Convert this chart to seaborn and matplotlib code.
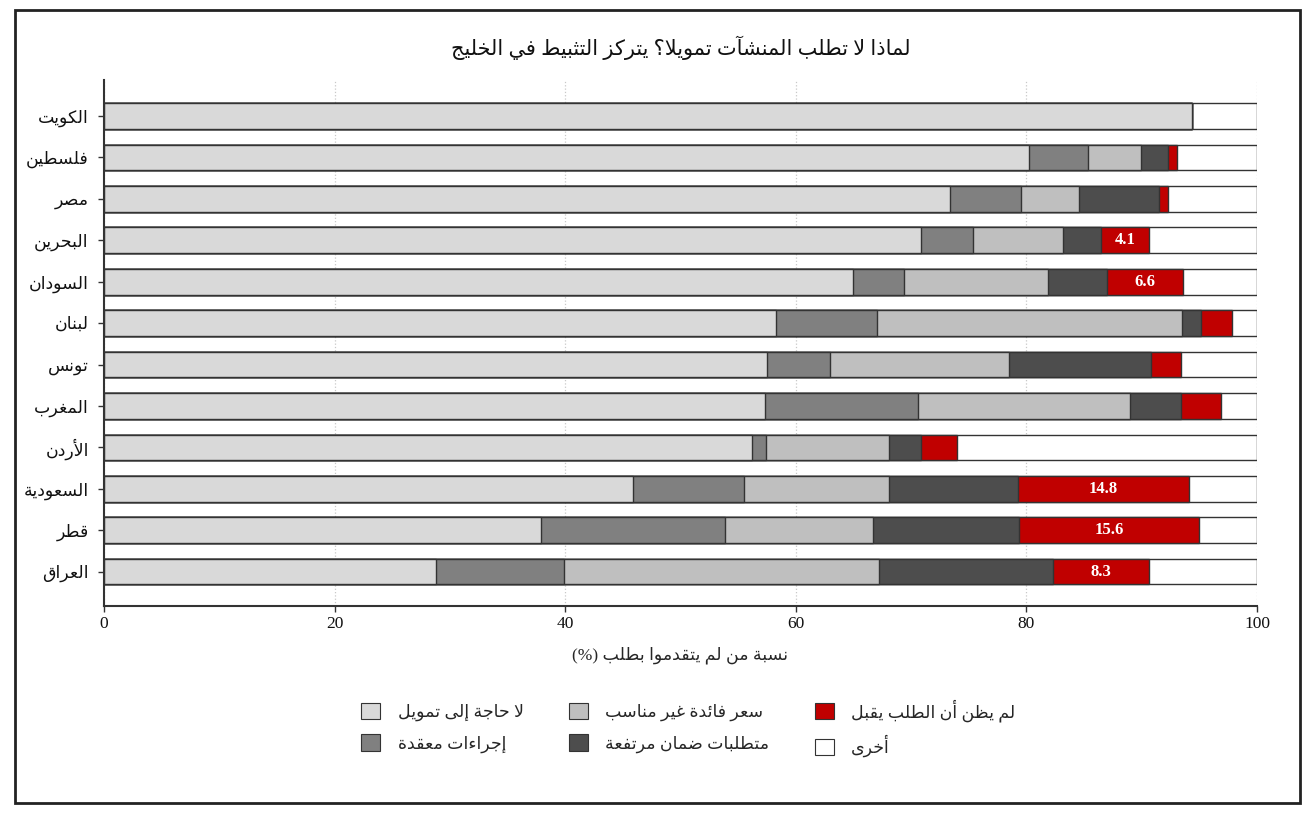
import matplotlib
matplotlib.use("Agg")
import matplotlib.pyplot as plt
from matplotlib.patches import Patch, Rectangle
import numpy as np
import seaborn as sns

# ---------------- data ----------------
countries = ["الكويت", "فلسطين", "مصر", "البحرين", "السودان", "لبنان",
             "تونس", "المغرب", "الأردن", "السعودية", "قطر", "العراق"]
no_need      = [94.4, 80.2, 73.4, 70.9, 65.0, 58.3, 57.5, 57.3, 56.2, 45.9, 37.9, 28.8]
complex_proc = [0.0, 5.1, 6.1, 4.5, 4.4, 8.7, 5.5, 13.3, 1.2, 9.6, 16.0, 11.1]
interest     = [0.0, 4.6, 5.1, 7.8, 12.5, 26.5, 15.5, 18.4, 10.7, 12.6, 12.8, 27.3]
collateral   = [0.0, 2.4, 6.9, 3.3, 5.1, 1.6, 12.3, 4.4, 2.8, 11.2, 12.7, 15.1]
not_approved = [0.0, 0.8, 0.8, 4.1, 6.6, 2.7, 2.6, 3.5, 3.1, 14.8, 15.6, 8.3]
other        = [5.6, 6.9, 7.7, 9.4, 6.4, 2.2, 6.6, 3.1, 26.0, 5.9, 5.0, 9.4]

series_labels = ["لا حاجة إلى تمويل", "إجراءات معقدة", "سعر فائدة غير مناسب",
                 "متطلبات ضمان مرتفعة", "لم يظن أن الطلب يقبل", "أخرى"]
series_colors = ["#d9d9d9", "#808080", "#bfbfbf", "#4d4d4d", "#c00000", "#ffffff"]

title_text = "لماذا لا تطلب المنشآت تمويلا؟ يتركز التثبيط في الخليج"
xlabel_text = "نسبة من لم يتقدموا بطلب (%)"
xticks = [0, 20, 40, 60, 80, 100]

# ---------------- minimal Arabic shaping (matplotlib has no bidi/shaping) ----------------
_SPEC = [("\u0621", 0xFE80, 1), ("\u0622", 0xFE81, 2), ("\u0623", 0xFE83, 2),
         ("\u0624", 0xFE85, 2), ("\u0625", 0xFE87, 2), ("\u0626", 0xFE89, 4),
         ("\u0627", 0xFE8D, 2), ("\u0628", 0xFE8F, 4), ("\u0629", 0xFE93, 2),
         ("\u062A", 0xFE95, 4), ("\u062B", 0xFE99, 4), ("\u062C", 0xFE9D, 4),
         ("\u062D", 0xFEA1, 4), ("\u062E", 0xFEA5, 4), ("\u062F", 0xFEA9, 2),
         ("\u0630", 0xFEAB, 2), ("\u0631", 0xFEAD, 2), ("\u0632", 0xFEAF, 2),
         ("\u0633", 0xFEB1, 4), ("\u0634", 0xFEB5, 4), ("\u0635", 0xFEB9, 4),
         ("\u0636", 0xFEBD, 4), ("\u0637", 0xFEC1, 4), ("\u0638", 0xFEC5, 4),
         ("\u0639", 0xFEC9, 4), ("\u063A", 0xFECD, 4), ("\u0641", 0xFED1, 4),
         ("\u0642", 0xFED5, 4), ("\u0643", 0xFED9, 4), ("\u0644", 0xFEDD, 4),
         ("\u0645", 0xFEE1, 4), ("\u0646", 0xFEE5, 4), ("\u0647", 0xFEE9, 4),
         ("\u0648", 0xFEED, 2), ("\u0649", 0xFEEF, 2), ("\u064A", 0xFEF1, 4)]
_T = {c: (b, k) for c, b, k in _SPEC}
_LAMALEF = {"\u0622": 0xFEF5, "\u0623": 0xFEF7, "\u0625": 0xFEF9, "\u0627": 0xFEFB}
_MIRROR = {"(": ")", ")": "("}


def ar(s):
    out = []
    prev_joins = False
    i, n = 0, len(s)
    while i < n:
        c = s[i]
        if c not in _T:
            out.append(c)
            prev_joins = False
            i += 1
            continue
        base, k = _T[c]
        if c == "\u0644" and i + 1 < n and s[i + 1] in _LAMALEF:
            out.append(chr(_LAMALEF[s[i + 1]] + (1 if prev_joins else 0)))
            prev_joins = False
            i += 2
            continue
        nxt = s[i + 1] if i + 1 < n else None
        next_ok = nxt in _T and _T[nxt][1] > 1
        join_next = (k == 4) and next_ok
        if k == 1:
            f = base
        elif prev_joins and join_next:
            f = base + 3
        elif prev_joins:
            f = base + 1
        elif join_next:
            f = base + 2
        else:
            f = base
        out.append(chr(f))
        prev_joins = (k == 4)
        i += 1
    return "".join(_MIRROR.get(ch, ch) for ch in reversed(out))


# ---------------- style ----------------
sns.set_theme(style="white")
plt.rcParams["font.family"] = ["Liberation Serif", "DejaVu Sans"]
plt.rcParams["axes.unicode_minus"] = False

EDGE = "#333333"

fig = plt.figure(figsize=(13.16, 8.14), dpi=100)
ax = fig.add_axes([104 / 1316, 1 - 606 / 814, (1257 - 104) / 1316, (606 - 80) / 814])

series = [no_need, complex_proc, interest, collateral, not_approved, other]
cums = np.cumsum(np.array(series), axis=0)
cums[-1] = 100.0

# draw cumulative layers from the widest to the narrowest
for idx in range(len(series) - 1, -1, -1):
    sns.barplot(x=list(cums[idx]), y=countries, orient="y", color=series_colors[idx],
                saturation=1, edgecolor=EDGE, linewidth=1.0, width=0.62, ax=ax)

# value labels on the large red segments
for j in range(len(countries)):
    v = not_approved[j]
    if v >= 4:
        xc = cums[3][j] + v / 2
        ax.text(xc, j, f"{v:.1f}", ha="center", va="center", color="white",
                fontsize=12, fontweight="bold", family=["Liberation Serif"])

ax.set_xlim(0, 100)
ax.set_ylim(11.83, -0.87)
ax.set_xticks(xticks)
ax.set_xticklabels([str(t) for t in xticks], fontsize=12.5)
ax.set_yticks(range(len(countries)))
ax.set_yticklabels([ar(c) for c in countries], fontsize=12.5)
ax.set_ylabel("")
ax.set_xlabel(ar(xlabel_text), fontsize=12.5, labelpad=10)

ax.set_axisbelow(True)
ax.xaxis.grid(True, linestyle=":", color="#c8c8c8", linewidth=0.9)
ax.yaxis.grid(False)
for sp in ["top", "right"]:
    ax.spines[sp].set_visible(False)
for sp in ["left", "bottom"]:
    ax.spines[sp].set_color(EDGE)
    ax.spines[sp].set_linewidth(1.5)
ax.tick_params(axis="both", which="both", direction="out", length=4, width=1,
               color=EDGE, left=True, bottom=True, colors="#111111")
ax.tick_params(axis="y", pad=7)

fig.text((104 + 1257) / 2 / 1316, 1 - 48 / 814, ar(title_text), ha="center", va="center",
         fontsize=15, color="#111111")

handles = [Patch(facecolor=series_colors[i], edgecolor=EDGE, linewidth=0.8,
                 label=ar(series_labels[i])) for i in range(len(series_labels))]
fig.legend(handles=handles, loc="center", bbox_to_anchor=(0.523, 1 - 728 / 814), ncol=3,
           frameon=False, fontsize=12.5, handlelength=1.1, handleheight=1.1,
           handletextpad=1.0, columnspacing=2.6, labelspacing=0.75)

fig.patches.append(Rectangle((15 / 1316, 1 - 803 / 814), (1300 - 15) / 1316, (803 - 10) / 814,
                             transform=fig.transFigure, fill=False, edgecolor="#222222",
                             linewidth=2))

fig.savefig("out.png", dpi=100)
